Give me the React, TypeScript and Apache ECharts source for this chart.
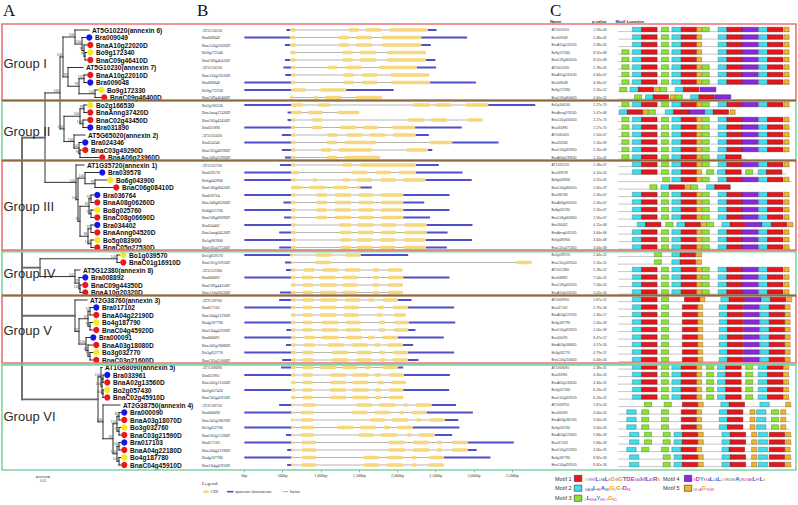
import React, { useEffect, useRef } from "react";
import * as echarts from "echarts";

// ---------------- Panel A: phylogeny (Newick; branch lengths in 0.001 subst./site) ----------------
const treeGroupI =
  "((AT5G10220:11.2,(Bra009049:3.2,(BnaA10g22020D:2.4,(Bo9g172340:1.6,BnaC09g46410D:1.6)97:0.8)99:1.6)100:5.6)100:9.6,(AT5G10230:12,((BnaA10g22010D:2.4,Bra009048:2.4)100:4,(Bo9g172330:2.4,BnaC09g46400D:4.8)100:12.8)99:8.8)99:4)100:2.4";
const treeGroupII =
  "(((Bo2g166530:2.4,BnaAnng37420D:2.4)98:3.2,(BnaC02g43450D:3.2,Bra031890:3.2)100:2.4)100:12.8,(AT5G65020:8.8,(Bra024346:2.4,(BnaC03g49290D:1.6,BnaA06g23960D:15.2)96:0.8)100:4)100:8)100:3.2";
const treeGroupIII =
  "(AT1G35720:6.4,((Bra039578:11.2,(Bo6g043900:9.6,BnaC06g08410D:14.4)99:8)100:5.6,(((Bra036764:2.4,BnaA08g06260D:2.4)94:1.6,(Bo8g025760:2.4,BnaC08g06690D:2.4)99:1.6)63:7.2,((Bra034402:2.4,BnaAnng04520D:2.4)97:2.4,(Bo5g083900:2.4,BnaC05g27530D:2.4)100:2.4)86:6.4)93:1.6)100:1.6)100:24.8";
const treeGroupIV =
  "((Bo1g039570:2.4,BnaC01g16910D:2.4)100:61.6,(AT5G12380:4,(Bra008892:2.4,(BnaC09g44350D:1.6,BnaA10g20320D:1.6)100:0.8)79:3.2)100:28)98:14.4";
const treeGroupV =
  "(AT2G38760:9.6,(((Bra017102:2.4,BnaA04g22190D:2.4)52:1.6,(Bo4g187790:2.4,BnaC04g45920D:2.4)98:1.6)62:7.2,(Bra000091:3.2,(BnaA03g18080D:4,(Bo3g032770:2.4,BnaC03g21600D:2.4)74:1.6)63:1.6)100:5.6)82:3.2)100:42.4";
const treeGroupVI =
  "((AT1G68090:0.8,((Bra033961:0.8,BnaA02g13560D:0.8)96:0.8,(Bo2g057430:0.8,BnaC02g45910D:0.8)100:0.8)100:0.8)100:2.4,(AT2G38750:13.6,(((Bra000090:1.6,BnaA03g18070D:1.6)80:1.6,(Bo3g032760:1.6,BnaC03g21590D:1.6)97:1.6)100:3.2,((Bra017103:1.6,BnaA04g22180D:1.6)100:1.6,(Bo4g187780:1.6,BnaC04g45910D:1.6)100:1.6)100:3.2)62:8)100:4)100:60.8";
const treeNewick = `(((${treeGroupI},${treeGroupII})100:12,${treeGroupIII})100:18.4,${treeGroupIV},${treeGroupV},${treeGroupVI});`;

const annexinTags: Record<string, string> = {
  AT5G10220: "annexin 6",
  AT5G10230: "annexin 7",
  AT5G65020: "annexin 2",
  AT1G35720: "annexin 1",
  AT5G12380: "annexin 8",
  AT2G38760: "annexin 3",
  AT1G68090: "annexin 5",
  AT2G38750: "annexin 4",
};
const scaleBarValue = 10; // 0.01
const scaleBarLabel = "0.01";

// ---------------- Groups ----------------
const groupNames = ["Group I", "Group II", "Group III", "Group IV", "Group V", "Group VI"];
const groupFirstRow = [0, 10, 18, 30, 36, 45];
const groupLastRow = [9, 17, 29, 35, 44, 58];
const groupTop = [-0.8, 9.4, 17.4, 29.55, 35.4, 44.65];
const groupBottom = [9.4, 17.4, 29.35, 35.4, 44.4, 58.67];
const groupColors = ["#ec7375", "#7bd6a4", "#ec7375", "#7bd6a4", "#ec7375", "#7bd6a4"];
const sharedBorders = [9.4, 17.4, 35.4];

// ---------------- Panel B: gene structure (bp) ----------------
const geneIds = [
  "AT5G10220", "Bra009049", "BnaA10g22020D", "Bo9g172340", "BnaC09g46410D", "AT5G10230", "BnaA10g22010D", "Bra009048", "Bo9g172330", "BnaC09g46400D",
  "Bo2g166530", "BnaAnng37420D", "BnaC02g43450D", "Bra031890", "AT5G65020", "Bra024346", "BnaC03g49290D", "BnaA06g23960D",
  "AT1G35720", "Bra039578", "Bo6g043900", "BnaC06g08410D", "Bra036764", "BnaA08g06260D", "Bo8g025760", "BnaC08g06690D", "Bra034402", "BnaAnng04520D", "Bo5g083900", "BnaC05g27530D",
  "Bo1g039570", "BnaC01g16910D", "AT5G12380", "Bra008892", "BnaC09g44350D", "BnaA10g20320D",
  "AT2G38760", "Bra017102", "BnaA04g22190D", "Bo4g187790", "BnaC04g45920D", "Bra000091", "BnaA03g18080D", "Bo3g032770", "BnaC03g21600D",
  "AT1G68090", "Bra033961", "BnaA02g13560D", "Bo2g057430", "BnaC02g45910D", "AT2G38750", "Bra000090", "BnaA03g18070D", "Bo3g032760", "BnaC03g21590D",
  "Bra017103", "BnaA04g22180D", "Bo4g187780", "BnaC04g45910D",
];
const utrStart = [
  550, 0, 530, null, 530, 510, 535, 0, 0, null,
  0, 565, 565, 0, 490, 0, 490, 530,
  465, 0, 0, null, 0, 510, 0, 520, 0, 455, 0, 455,
  0, 530, 545, 0, null, 465,
  455, 0, null, 0, 550, 0, 545, 0, 495,
  480, 0, null, 0, null, 455, 0, null, 0, 545, 0, 560, 0, 560,
];
const utrEnd = [
  2510, 2910, 2435, null, 2495, 2505, null, 3025, 1950, null,
  3800, null, null, 2840, 2410, 3320, 2455, null,
  2540, 2850, 2970, 1665, 2680, 2350, 2680, 2425, 2980, 2655, 2975, 2645,
  2140, null, null, 2680, null, null,
  2185, 2740, null, 2755, 2235, 2605, 2205, 2740, 2275,
  2075, 2685, null, 2675, null, 2765, 2985, 2795, 2810, 2715, 3520, 3035, 3215, null,
];
const cdsExons = [
  [[600, 670], [1360, 1500], [1580, 1790], [1890, 2395]],
  [[600, 670], [1230, 1370], [1455, 1670], [1800, 2310]],
  [[600, 670], [1230, 1370], [1455, 1670], [1800, 2310]],
  [[600, 670], [1280, 1420], [1510, 1725], [1860, 2370]],
  [[600, 670], [1280, 1420], [1510, 1725], [1860, 2370]],
  [[610, 670], [1085, 1215], [1320, 1535], [1760, 2255]],
  [[610, 670], [1290, 1430], [1535, 1740], [1910, 2415]],
  [[610, 670], [1290, 1430], [1535, 1740], [1915, 2425]],
  [[610, 805], [990, 1330]],
  [[600, 640], [910, 960], [1055, 1270], [1455, 1795]],
  [[610, 770], [965, 1120], [2200, 2425], [2490, 2700], [2890, 3185]],
  [[610, 750], [825, 1025], [1215, 1500]],
  [[610, 660], [890, 1020], [2140, 2350], [2435, 2650], [2915, 3110]],
  [[610, 660], [880, 1020], [1255, 1470], [1545, 1750], [1935, 2230]],
  [[610, 670], [1085, 1220], [1335, 1545], [1640, 1845], [1940, 2235]],
  [[610, 670], [1075, 1215], [1305, 1720], [2425, 2715]],
  [[610, 670], [1000, 1140], [1235, 1665], [2115, 2395]],
  [[610, 670], [1075, 1215], [1305, 1775]],
  [[610, 670], [1280, 1415], [1515, 2240]],
  [[610, 715], [1400, 1610], [1715, 1915], [2015, 2240]],
  [[610, 670], [895, 945], [1285, 1380], [1465, 1675], [1775, 1980], [2075, 2365]],
  [[610, 760], [850, 1065], [1160, 1365], [1465, 1515]],
  [[610, 670], [940, 1080], [1180, 1395], [1490, 1690], [1785, 2075]],
  [[610, 670], [940, 1080], [1180, 1395], [1490, 1690], [1785, 2075]],
  [[610, 670], [940, 1080], [1180, 1395], [1490, 1690], [1785, 2075]],
  [[610, 670], [940, 1080], [1180, 1395], [1490, 1690], [1785, 2075]],
  [[610, 670], [1235, 1400], [1480, 1695], [1780, 1985], [2090, 2380]],
  [[610, 670], [1245, 1400], [1480, 1695], [1780, 1985], [2090, 2380]],
  [[610, 670], [1255, 1395], [1470, 1680], [1765, 1970], [2075, 2370]],
  [[610, 670], [1255, 1395], [1470, 1680], [1765, 1970], [2075, 2370]],
  [[600, 635], [925, 1140], [1315, 1520]],
  [[610, 640], [925, 1140], [3550, 3755]],
  [[610, 670], [780, 915], [1020, 1230], [1315, 1515], [1680, 1760], [1870, 2065]],
  [[610, 670], [750, 900], [975, 1195], [1280, 1480], [1680, 1760], [1870, 2075]],
  [[610, 670], [760, 900], [985, 1205], [1280, 1480], [1675, 1760], [1870, 2070]],
  [[610, 670], [760, 900], [985, 1205], [1280, 1480], [1675, 1760], [1870, 2070]],
  [[610, 670], [760, 910], [995, 1215], [1315, 1515], [1620, 1700], [1805, 2005]],
  [[610, 670], [760, 895], [985, 1205], [1295, 1495], [1740, 1825], [1940, 2135]],
  [[610, 670], [760, 895], [985, 1205], [1295, 1495], [1725, 1805], [1950, 2110]],
  [[610, 670], [760, 895], [1010, 1230], [1325, 1525], [1760, 1840], [1960, 2145]],
  [[610, 670], [760, 895], [1010, 1230], [1325, 1525], [1760, 1840], [1950, 2140]],
  [[610, 670], [785, 925], [1010, 1235], [1330, 1535], [1615, 1700], [1805, 2005]],
  [[610, 670], [785, 925], [1090, 1300], [1405, 1610], [1700, 1775], [1870, 2070]],
  [[610, 670], [760, 905], [1145, 1365], [1465, 1665], [1760, 1840], [1935, 2135]],
  [[610, 670], [760, 905], [1145, 1365], [1465, 1665], [1760, 1840], [1935, 2135]],
  [[610, 670], [760, 905], [990, 1205], [1280, 1475], [1575, 1650], [1805, 2005]],
  [[610, 670], [760, 895], [1120, 1330], [1410, 1625], [1705, 1785], [1890, 2085]],
  [[610, 670], [760, 895], [1120, 1330], [1410, 1625], [1740, 1825], [1915, 2110]],
  [[610, 670], [760, 895], [1120, 1330], [1410, 1625], [1705, 1785], [1890, 2075]],
  [[610, 670], [760, 895], [1120, 1330], [1410, 1625], [1705, 1785], [1890, 2075]],
  [[610, 640], [760, 935], [1465, 1670], [1760, 1975], [2075, 2135], [2235, 2445]],
  [[610, 640], [735, 910], [1400, 1610], [1700, 1910], [2020, 2085], [2180, 2380]],
  [[610, 640], [740, 900], [1635, 1840], [1925, 2140], [2245, 2310], [2415, 2620]],
  [[610, 640], [740, 910], [1215, 1430], [1510, 1720], [1825, 1905], [2000, 2200]],
  [[610, 640], [740, 910], [1490, 1700], [1780, 1995], [2125, 2185], [2280, 2485]],
  [[610, 640], [750, 940], [1880, 2100], [2200, 2415], [2510, 2580], [2710, 2915]],
  [[610, 640], [750, 940], [1880, 2100], [2200, 2415], [2510, 2580], [2710, 2915]],
  [[610, 640], [750, 940], [1555, 1765], [1860, 2075], [2185, 2250], [2405, 2605]],
  [[610, 640], [750, 940], [1555, 1765], [1860, 2075], [2185, 2250], [2405, 2605]],
];

// ---------------- Panel C: MEME motifs (aa positions) ----------------
const proteinNames = [
  "AT5G10220", "Bra009049", "BnaA10g22020D", "Bo9g172340", "BnaC09g46410D", "AT5G10230", "BnaA10g22010D", "Bra009048", "Bo9g172330", "BnaC09g46400D",
  "Bo2g166530", "BnaAnng37420D", "BnaC02g43450D", "Bra031890", "AT5G65020", "Bra024346", "BnaC03g49290D", "BnaA06g23960D",
  "AT1G35720", "Bra039578", "Bo6g043900", "BnaC06g08410D", "Bra036764", "BnaA08g06260D", "Bo8g025760", "BnaC08g06690D", "Bra034402", "BnaAnng04520D", "Bo5g083900", "BnaC05g27530D",
  "Bo1g039570", "BnaC01g16910D", "AT5G12380", "Bra008892", "BnaC09g44350D", "BnaA10g20320D",
  "AT2G38760", "Bra017102", "BnaA04g22190D", "Bo4g187790", "BnaC04g45920D", "Bra000091", "BnaA03g18080D", "Bo3g032770", "BnaC03g21600D",
  "AT1G68090", "Bra033961", "BnaA02g13560D", "Bo2g057430", "BnaC02g45910D", "AT2G38750", "Bra000090", "BnaA03g18070D", "Bo3g032760", "BnaA04g22180D",
  "Bra017103", "BnaC03g21590D", "Bo4g187780", "BnaC04g45910D",
];
const pValues = [
  "1.93e-63", "2.48e-65", "2.48e-65", "8.52e-68", "8.52e-68", "1.78e-65", "4.64e-67", "4.94e-67", "2.16e-52", "4.60e-52",
  "2.27e-70", "5.47e-68", "2.27e-70", "2.27e-70", "1.50e-67", "1.20e-69", "1.20e-69", "1.12e-41",
  "2.18e-67", "4.10e-32", "4.52e-65", "2.60e-37", "2.56e-67", "2.56e-67", "2.56e-67", "2.56e-67", "4.15e-68", "3.64e-68", "3.64e-68", "3.64e-68",
  "2.44e-22", "2.10e-21", "1.28e-52", "7.04e-55", "7.04e-55", "5.02e-54",
  "2.67e-52", "1.79e-56", "1.34e-57", "1.00e-58", "1.00e-58", "8.47e-57", "4.57e-56", "4.79e-57", "6.44e-56",
  "2.38e-31", "4.30e-32", "4.30e-32", "6.23e-32", "6.23e-32", "1.67e-35", "3.00e-35", "3.00e-35", "3.00e-35", "9.84e-33",
  "9.84e-33", "3.00e-35", "8.82e-34", "8.82e-34",
];
const motifLabels = ["Motif 1", "Motif 2", "Motif 3", "Motif 4", "Motif 5"];
const motifColors = ["#e3171d", "#42dcea", "#8ee237", "#8a28dc", "#f3b52f"];
const motifStrokes = ["#7a1010", "#2a8a94", "#4e8a1a", "#4a1480", "#8c6414"];
const motifWidths = [28, 17, 13, 29, 9];
const motifLogos = [
  "gyeeeLlraLkGwGTDEkalIeILasRs",
  "kaeaLrkAmkGlGtDek",
  "lLkeaYeelyGkd",
  "eDYekaLlaLlgsrsneAqrdeaeLfkLg",
  "lkgaGtdek",
];
// each motif site: [motif number, start]
const motifPatterns: Record<string, { len: number; sites: number[][] }> = {
  A: { len: 313, sites: [[3, 7], [2, 26], [1, 43], [3, 79], [2, 98], [1, 115], [5, 143], [3, 153], [2, 182], [1, 198], [4, 226], [2, 256], [1, 272], [5, 302]] },
  B: { len: 313, sites: [[2, 26], [1, 43], [3, 79], [2, 98], [1, 115], [5, 143], [3, 153], [2, 182], [1, 198], [4, 226], [2, 256], [1, 272], [5, 302]] },
  C: { len: 313, sites: [[2, 26], [1, 43], [3, 79], [2, 98], [1, 115], [5, 143], [2, 182], [1, 198], [4, 226], [2, 256], [1, 272], [5, 302]] },
  D: { len: 313, sites: [[3, 7], [2, 26], [1, 43], [3, 79], [2, 98], [1, 115], [5, 143], [2, 182], [1, 198], [4, 226], [2, 256], [1, 272], [5, 302]] },
  E: { len: 178, sites: [[3, 3], [2, 22], [1, 37], [5, 67], [3, 76], [2, 104], [1, 119], [4, 149]] },
  F: { len: 205, sites: [[3, 30], [2, 50], [1, 64], [5, 95], [3, 104], [2, 132], [1, 147], [4, 176]] },
  G: { len: 213, sites: [[2, 2], [1, 17], [5, 46], [3, 55], [2, 86], [1, 101], [4, 129], [2, 158], [1, 173], [5, 204]] },
  H: { len: 232, sites: [[3, 7], [2, 26], [1, 43], [3, 79], [2, 98], [1, 115], [5, 143], [3, 153], [2, 181], [1, 196]] },
  I: { len: 306, sites: [[2, 26], [1, 43], [3, 79], [2, 98], [1, 115], [5, 143], [3, 161], [2, 181], [1, 196], [3, 232], [2, 255], [1, 270]] },
  J: { len: 316, sites: [[3, 81], [2, 98], [1, 115], [5, 143], [3, 153], [2, 182], [1, 198], [4, 226], [2, 256], [1, 272], [5, 302]] },
  K: { len: 205, sites: [[3, 58], [2, 78], [1, 93], [5, 123], [3, 132], [2, 161], [1, 176]] },
  L: { len: 319, sites: [[2, 35], [1, 50], [3, 87], [2, 107], [1, 122], [5, 152], [3, 161], [2, 189], [1, 204], [4, 233], [2, 262], [1, 279], [5, 309]] },
  M: { len: 152, sites: [[3, 66], [2, 98], [1, 113], [5, 143]] },
  N: { len: 316, sites: [[2, 26], [1, 43], [3, 79], [1, 121], [5, 149], [2, 187], [1, 202], [4, 231], [2, 261], [1, 277], [5, 307]] },
  O: { len: 314, sites: [[2, 26], [1, 43], [3, 79], [1, 117], [5, 145], [2, 184], [1, 199], [4, 228], [2, 258], [1, 275], [5, 304]] },
  P: { len: 313, sites: [[2, 26], [1, 43], [3, 79], [2, 98], [1, 115], [5, 143], [3, 161], [2, 181], [1, 196], [3, 232], [2, 255], [1, 272], [5, 301]] },
  Q: { len: 316, sites: [[3, 48], [3, 84], [1, 117], [5, 146], [2, 187], [1, 202], [2, 258], [5, 305]] },
  R: { len: 313, sites: [[2, 16], [3, 43], [3, 79], [1, 115], [5, 143], [2, 184], [1, 199], [5, 240], [2, 252], [3, 279], [5, 296]] },
  S: { len: 316, sites: [[2, 21], [3, 48], [3, 82], [2, 102], [1, 117], [5, 146], [2, 189], [1, 204], [5, 243], [2, 255], [1, 275], [5, 305]] },
  T: { len: 316, sites: [[2, 16], [3, 43], [3, 79], [2, 98], [1, 115], [5, 143], [2, 189], [1, 202], [5, 243], [2, 255], [1, 275], [5, 304]] },
  U: { len: 316, sites: [[2, 21], [3, 82], [2, 102], [1, 117], [5, 146], [2, 189], [1, 204], [5, 243], [2, 255], [1, 275], [5, 305]] },
};
const motifRowPattern = (
  "B C C D D A A A E F " +
  "A G A A A A A H " +
  "B I J K B B B B L B B B " +
  "M M B B B B " +
  "N O O O O O O O O " +
  "P P P P P Q R R R S S T U U"
).split(" ");

// ---------------- helpers ----------------
type TNode = { name: string; len: number; support: string; children: TNode[]; x: number; y: number; depth: number };

function parseNewick(src: string): TNode {
  const s = src.replace(/\s+/g, "");
  let i = 0;
  const node = (): TNode => {
    const n: TNode = { name: "", len: 0, support: "", children: [], x: 0, y: 0, depth: 0 };
    if (s[i] === "(") {
      i++;
      n.children.push(node());
      while (s[i] === ",") {
        i++;
        n.children.push(node());
      }
      i++;
    }
    let label = "";
    while (i < s.length && ":,();".indexOf(s[i]) < 0) label += s[i++];
    if (s[i] === ":") {
      i++;
      let num = "";
      while (i < s.length && ",();".indexOf(s[i]) < 0) num += s[i++];
      n.len = parseFloat(num);
    }
    if (n.children.length) n.support = label;
    else n.name = label;
    return n;
  };
  return node();
}

function layoutTree(root: TNode) {
  const leaves: TNode[] = [];
  const internals: TNode[] = [];
  const visit = (n: TNode, px: number, d: number) => {
    n.x = px + n.len;
    n.depth = d;
    if (!n.children.length) {
      n.y = leaves.length;
      leaves.push(n);
      return;
    }
    n.children.forEach((c) => visit(c, n.x, d + 1));
    n.y = (n.children[0].y + n.children[n.children.length - 1].y) / 2;
    internals.push(n);
  };
  visit(root, 0, 0);
  return { leaves, internals };
}

const speciesColor = (id: string) =>
  id.startsWith("Bra") ? "#1515e8" : id.startsWith("Bna") ? "#ec1818" : id.startsWith("Bo") ? "#f4ea1c" : null;

const aaKey = (ch: string) => {
  const c = ch.toUpperCase();
  if ("ACFILVWM".includes(c)) return "b";
  if ("NQST".includes(c)) return "g";
  if ("DE".includes(c)) return "m";
  if ("KR".includes(c)) return "r";
  if (c === "G") return "o";
  if (c === "P") return "y";
  return "c";
};
const aaColors: Record<string, string> = { b: "#3a4fd0", g: "#22a040", m: "#d02ad0", r: "#e03030", o: "#f09a10", y: "#c8c000", c: "#20a8b0" };

function logoRich() {
  const rich: Record<string, any> = {};
  Object.keys(aaColors).forEach((k) => {
    rich[k + "U"] = { fill: aaColors[k], fontSize: 6, fontWeight: "bold", fontFamily: "Liberation Sans", verticalAlign: "bottom", lineHeight: 7 };
    rich[k + "L"] = { fill: aaColors[k], fontSize: 3, fontFamily: "Liberation Sans", verticalAlign: "bottom", lineHeight: 7 };
  });
  return rich;
}
const logoText = (seq: string) =>
  seq
    .split("")
    .map((ch) => `{${aaKey(ch)}${ch === ch.toUpperCase() ? "U" : "L"}|${ch.toUpperCase()}}`)
    .join("");

function txt(text: string, x: number, y: number, o: any = {}) {
  const align = o.align || "left";
  const va = o.va || "middle";
  return {
    type: "text",
    x,
    y,
    silent: true,
    style: {
      text,
      fill: o.fill || "#222",
      fontSize: o.size || 5,
      fontFamily: o.family || "Liberation Sans",
      fontWeight: o.weight || "normal",
      align,
      verticalAlign: va,
      textAlign: align,
      textVerticalAlign: va,
      rich: o.rich,
    },
  };
}

function buildOption() {
  const root = parseNewick(treeNewick);
  const { leaves, internals } = layoutTree(root);

  const segs: number[][] = [];
  internals.forEach((n) => {
    const f = n.children[0];
    const l = n.children[n.children.length - 1];
    segs.push([n.x, f.y, n.x, l.y, n.depth === 0 ? 1 : 0]);
    n.children.forEach((c) => segs.push([n.x, c.y, c.x, c.y, c.depth === 1 ? 1 : 0]));
  });
  const leafNames = leaves.map((l) => l.name);
  const supportNodes = internals.filter((n) => n.support && n.depth > 1);
  const supportLabels = supportNodes.map((n) => n.support);

  // Panel B data
  const intronData = cdsExons.map((ex, i) => [ex[0][0], ex[ex.length - 1][1], i]);
  const utrData: number[][] = [];
  cdsExons.forEach((ex, i) => {
    if (utrStart[i] !== null) utrData.push([utrStart[i] as number, ex[0][0], i]);
    if (utrEnd[i] !== null) utrData.push([ex[ex.length - 1][1], utrEnd[i] as number, i]);
  });
  const cdsData: number[][] = [];
  cdsExons.forEach((ex, i) => ex.forEach((e) => cdsData.push([e[0], e[1], i])));

  // Panel C data
  const trackData = motifRowPattern.map((k, i) => [0, motifPatterns[k].len, i]);
  const motifData: number[][] = [];
  motifRowPattern.forEach((k, i) =>
    motifPatterns[k].sites.forEach(([m, s]) => motifData.push([s, s + motifWidths[m - 1], i, m]))
  );

  const TOP = 26.25;
  const H = 442.5;
  const gridBase = { top: TOP, height: H, show: false, containLabel: false, outerBoundsMode: "none" };

  const lineRender = (stroke: string, lw: number, dy = 0) => (_p: any, api: any) => {
    const a = api.coord([api.value(0), api.value(2)]);
    const b = api.coord([api.value(1), api.value(2)]);
    return { type: "line", shape: { x1: a[0], y1: a[1] + dy, x2: b[0], y2: b[1] + dy }, style: { stroke, lineWidth: lw } };
  };

  const rich = logoRich();
  const graphics: any[] = [
    txt("A", 3, 10.5, { size: 17, family: "Liberation Serif", fill: "#111" }),
    txt("B", 197, 10.5, { size: 17, family: "Liberation Serif", fill: "#111" }),
    txt("C", 550, 10, { size: 17, family: "Liberation Serif", fill: "#111" }),
    txt("Name", 550, 21.5, { size: 4.2, weight: "bold", fill: "#333" }),
    txt("p-value", 592, 21.5, { size: 4.2, weight: "bold", fill: "#333" }),
    txt("Motif Location", 615.5, 21.5, { size: 4.2, weight: "bold", fill: "#333" }),
    // panel B legend
    txt("Legend:", 202, 483.5, { size: 5, family: "Liberation Serif", fill: "#333" }),
    { type: "rect", silent: true, shape: { x: 203, y: 490.4, width: 6, height: 2.6, r: 1.2 }, style: { fill: "#f6d77d" } },
    txt("CDS", 210.5, 491.8, { size: 4, family: "Liberation Serif", fill: "#333" }),
    { type: "line", silent: true, shape: { x1: 227, y1: 491.7, x2: 233.5, y2: 491.7 }, style: { stroke: "#4f4fc9", lineWidth: 1.6 } },
    txt("upstream/ downstream", 235, 491.8, { size: 4, family: "Liberation Serif", fill: "#333" }),
    { type: "line", silent: true, shape: { x1: 283, y1: 491.7, x2: 288.5, y2: 491.7 }, style: { stroke: "#999", lineWidth: 0.8 } },
    txt("Intron", 290, 491.8, { size: 4, family: "Liberation Serif", fill: "#333" }),
  ];
  // motif legend
  const legendPos = [
    [555, 478.5, 574.3, 585],
    [555, 488.3, 574.3, 585],
    [555, 498.3, 574.3, 585],
    [663, 478.5, 684.3, 693.5],
    [663, 488.3, 684.3, 693.5],
  ];
  motifLabels.forEach((lab, i) => {
    const [tx, ty, bx, lx] = legendPos[i];
    graphics.push(txt(lab, tx, ty, { size: 5.5, fill: "#333" }));
    graphics.push({
      type: "rect",
      silent: true,
      shape: { x: bx, y: ty - 3.2, width: 7.5, height: 6.2 },
      style: { fill: motifColors[i], stroke: "#333", lineWidth: 0.6 },
    });
    graphics.push(txt(logoText(motifLogos[i]), lx, ty + 3, { size: 5, va: "bottom", rich }));
  });

  return {
    animation: false,
    backgroundColor: "#ffffff",
    grid: [
      { ...gridBase, left: 22, width: 240 },
      { ...gridBase, left: 244.3, width: 268 },
      { ...gridBase, left: 618, width: 181.5 },
      { ...gridBase, left: 2, width: 794 },
    ],
    xAxis: [
      { type: "value", gridIndex: 0, min: 0, max: 192, show: false },
      {
        type: "value",
        gridIndex: 1,
        min: 0,
        max: 3500,
        interval: 500,
        position: "bottom",
        offset: 1.25,
        axisLine: { show: false },
        axisTick: { show: true, length: 2.5, lineStyle: { color: "#777", width: 0.6 } },
        axisLabel: { formatter: "{value}bp", fontSize: 4, fontFamily: "Liberation Serif", color: "#333", margin: 3, showMaxLabel: true },
        splitLine: { show: false },
      },
      { type: "value", gridIndex: 2, min: 0, max: 330, show: false },
      { type: "value", gridIndex: 3, min: 0, max: 1, show: false },
    ],
    yAxis: [
      { type: "value", gridIndex: 0, min: -0.5, max: 58.5, inverse: true, show: false },
      {
        type: "category",
        gridIndex: 1,
        data: geneIds,
        inverse: true,
        axisLine: { show: false },
        axisTick: { show: false },
        axisLabel: { interval: 0, align: "left", margin: 42.3, fontSize: 4, fontFamily: "Liberation Serif", color: "#333" },
      },
      {
        type: "category",
        gridIndex: 2,
        position: "left",
        offset: 0,
        data: proteinNames,
        inverse: true,
        axisLine: { show: false },
        axisTick: { show: false },
        axisLabel: { interval: 0, align: "left", margin: 66.5, fontSize: 3.3, fontFamily: "Liberation Sans", color: "#444" },
      },
      {
        type: "category",
        gridIndex: 2,
        position: "left",
        offset: 0,
        data: pValues.map((_, i) => String(i)),
        inverse: true,
        axisLine: { show: false },
        axisTick: { show: false },
        axisLabel: {
          interval: 0,
          align: "left",
          margin: 24.7,
          fontSize: 3.4,
          fontFamily: "Liberation Sans",
          color: "#444",
          formatter: (v: string) => pValues[+v],
        },
      },
      { type: "value", gridIndex: 3, min: -0.5, max: 58.5, inverse: true, show: false },
    ],
    graphic: { elements: graphics },
    series: [
      // ---- tree ----
      {
        type: "custom",
        name: "tree",
        xAxisIndex: 0,
        yAxisIndex: 0,
        clip: false,
        silent: true,
        progressive: 0,
        encode: { x: [0, 2], y: [1, 3] },
        data: segs,
        renderItem: (_p: any, api: any) => {
          const a = api.coord([api.value(0), api.value(1)]);
          const b = api.coord([api.value(2), api.value(3)]);
          const thick = api.value(4) === 1;
          return {
            type: "line",
            shape: { x1: a[0], y1: a[1], x2: b[0], y2: b[1] },
            style: { stroke: thick ? "#6a6a6a" : "#1a1a1a", lineWidth: thick ? 1.9 : 0.9, lineCap: "square" },
          };
        },
      },
      {
        type: "custom",
        name: "bootstrap",
        xAxisIndex: 0,
        yAxisIndex: 0,
        clip: false,
        silent: true,
        progressive: 0,
        encode: { x: 0, y: 1 },
        data: supportNodes.map((n) => [n.x, n.y]),
        renderItem: (p: any, api: any) => {
          const a = api.coord([api.value(0), api.value(1)]);
          return txt(supportLabels[p.dataIndex], a[0] - 0.8, a[1] - 0.5, { size: 3.2, align: "right", va: "bottom", fill: "#444" });
        },
      },
      {
        type: "custom",
        name: "leaves",
        xAxisIndex: 0,
        yAxisIndex: 0,
        clip: false,
        silent: true,
        progressive: 0,
        encode: { x: 0, y: 1 },
        data: leaves.map((l) => [l.x, l.y]),
        renderItem: (p: any, api: any) => {
          const a = api.coord([api.value(0), api.value(1)]);
          const id = leafNames[p.dataIndex];
          const col = speciesColor(id);
          const label = annexinTags[id] ? `${id}(${annexinTags[id]})` : id;
          const children: any[] = [];
          let tx = a[0] + 3;
          if (col) {
            children.push({ type: "circle", shape: { cx: a[0] + 3.3, cy: a[1], r: 3.1 }, style: { fill: col } });
            tx = a[0] + 9;
          }
          children.push(txt(label, tx, a[1] + 0.3, { size: 6.6, weight: "bold", fill: "#111" }));
          return { type: "group", children };
        },
      },
      {
        type: "custom",
        name: "scale",
        xAxisIndex: 0,
        yAxisIndex: 0,
        clip: false,
        silent: true,
        progressive: 0,
        encode: { x: [0, 2], y: [1, 3] },
        data: [[11.8, 59.6, 11.8 + scaleBarValue, 59.6]],
        renderItem: (_p: any, api: any) => {
          const a = api.coord([api.value(0), api.value(1)]);
          const b = api.coord([api.value(2), api.value(3)]);
          const st = { stroke: "#444", lineWidth: 0.7 };
          return {
            type: "group",
            children: [
              { type: "line", shape: { x1: a[0], y1: a[1], x2: b[0], y2: b[1] }, style: st },
              { type: "line", shape: { x1: a[0], y1: a[1] - 1, x2: a[0], y2: a[1] + 1 }, style: st },
              { type: "line", shape: { x1: b[0], y1: b[1] - 1, x2: b[0], y2: b[1] + 1 }, style: st },
              txt(scaleBarLabel, (a[0] + b[0]) / 2, a[1] + 3.6, { size: 3.2, align: "center", fill: "#444" }),
            ],
          };
        },
      },
      // ---- gene structure ----
      {
        type: "custom",
        name: "Intron",
        xAxisIndex: 1,
        yAxisIndex: 1,
        clip: false,
        silent: true,
        progressive: 0,
        encode: { x: [0, 1], y: 2 },
        data: intronData,
        renderItem: lineRender("#a2a2a2", 0.8),
      },
      {
        type: "custom",
        name: "upstream/ downstream",
        xAxisIndex: 1,
        yAxisIndex: 1,
        clip: false,
        silent: true,
        progressive: 0,
        encode: { x: [0, 1], y: 2 },
        data: utrData,
        renderItem: lineRender("#4f4fc9", 2),
      },
      {
        type: "custom",
        name: "CDS",
        xAxisIndex: 1,
        yAxisIndex: 1,
        clip: false,
        silent: true,
        progressive: 0,
        encode: { x: [0, 1], y: 2 },
        data: cdsData,
        renderItem: (_p: any, api: any) => {
          const a = api.coord([api.value(0), api.value(2)]);
          const b = api.coord([api.value(1), api.value(2)]);
          return {
            type: "rect",
            shape: { x: a[0], y: a[1] - 1.8, width: Math.max(b[0] - a[0], 0.5), height: 3.6, r: 1.2 },
            style: { fill: "#f6d77d" },
          };
        },
      },
      // ---- motifs ----
      {
        type: "custom",
        name: "track",
        xAxisIndex: 2,
        yAxisIndex: 2,
        clip: false,
        silent: true,
        progressive: 0,
        encode: { x: [0, 1], y: 2 },
        data: trackData,
        renderItem: lineRender("#b8b8b8", 0.8, 1.6),
      },
      {
        type: "custom",
        name: "motifs",
        xAxisIndex: 2,
        yAxisIndex: 2,
        clip: false,
        silent: true,
        progressive: 0,
        encode: { x: [0, 1], y: 2 },
        data: motifData,
        renderItem: (_p: any, api: any) => {
          const a = api.coord([api.value(0), api.value(2)]);
          const b = api.coord([api.value(1), api.value(2)]);
          const m = api.value(3) - 1;
          return {
            type: "rect",
            shape: { x: a[0], y: a[1] - 2.7, width: b[0] - a[0], height: 4.4 },
            style: { fill: motifColors[m], stroke: motifStrokes[m], lineWidth: 0.5 },
          };
        },
      },
      // ---- group boxes ----
      {
        type: "custom",
        name: "groups",
        xAxisIndex: 3,
        yAxisIndex: 4,
        clip: false,
        silent: true,
        progressive: 0,
        encode: { x: [0, 2], y: [1, 3] },
        data: groupTop.map((t, i) => [0, t, 1, groupBottom[i]]),
        renderItem: (p: any, api: any) => {
          const i = p.dataIndex;
          const a = api.coord([0, api.value(1)]);
          const b = api.coord([1, api.value(3)]);
          const mid = api.coord([0, (groupFirstRow[i] + groupLastRow[i]) / 2]);
          return {
            type: "group",
            children: [
              {
                type: "rect",
                shape: { x: a[0], y: a[1], width: b[0] - a[0], height: b[1] - a[1] },
                style: { fill: "none", stroke: groupColors[i], lineWidth: 1.6 },
              },
              txt(groupNames[i], a[0] + 1.5, mid[1], { size: 13, fill: "#2a2a2a" }),
            ],
          };
        },
      },
      {
        type: "custom",
        name: "borders",
        xAxisIndex: 3,
        yAxisIndex: 4,
        clip: false,
        silent: true,
        progressive: 0,
        encode: { x: [0, 2], y: [1, 3] },
        data: sharedBorders.map((r) => [0, r, 1, r]),
        renderItem: (_p: any, api: any) => {
          const a = api.coord([api.value(0), api.value(1)]);
          const b = api.coord([api.value(2), api.value(3)]);
          return { type: "line", shape: { x1: a[0], y1: a[1], x2: b[0], y2: b[1] }, style: { stroke: "#8d6b40", lineWidth: 2 } };
        },
      },
    ],
  };
}

export default function App() {
  const ref = useRef<HTMLDivElement>(null);
  useEffect(() => {
    if (!ref.current) return;
    const chart = echarts.init(ref.current, undefined, { renderer: "svg", width: 798, height: 505 });
    chart.setOption(buildOption() as any);
    return () => chart.dispose();
  }, []);
  return (
    <div
      ref={ref}
      style={{ position: "fixed", left: 0, top: 0, width: 798, height: 505, background: "#fff" }}
    />
  );
}
